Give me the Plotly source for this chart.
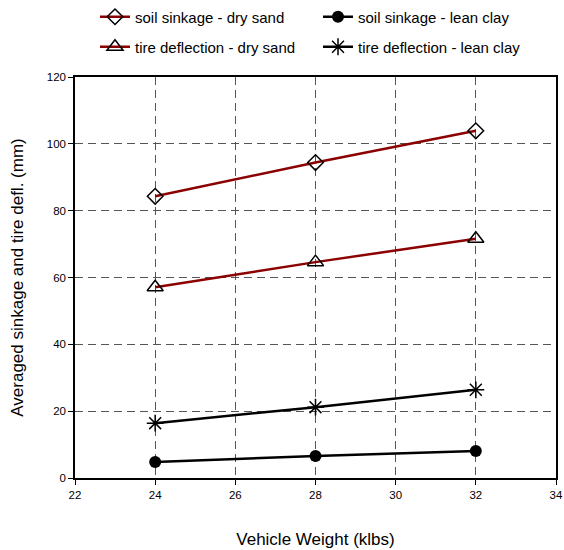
import plotly.graph_objects as go

weights = [24, 28, 32]
soil_sand = [84.3, 94.4, 103.9]
soil_clay = [4.8, 6.6, 8.1]
tire_sand = [57.1, 64.6, 71.6]
tire_clay = [16.4, 21.2, 26.4]

x_ticks = [22, 24, 26, 28, 30, 32, 34]
y_ticks = [0, 20, 40, 60, 80, 100, 120]

RED = "#8B0000"
FONT = "Liberation Sans, Arial, sans-serif"

fig = go.Figure()
fig.add_trace(go.Scatter(x=weights, y=soil_sand, name="soil sinkage - dry sand", mode="lines+markers",
                         legend="legend",
                         line=dict(color=RED, width=2.5),
                         marker=dict(symbol="diamond-open", size=12, color="black", line=dict(color="black", width=1.5))))
fig.add_trace(go.Scatter(x=weights, y=soil_clay, name="soil sinkage - lean clay", mode="lines+markers",
                         legend="legend",
                         line=dict(color="black", width=2.5),
                         marker=dict(symbol="circle", size=12, color="black")))
fig.add_trace(go.Scatter(x=weights, y=tire_sand, name="tire deflection - dry sand", mode="lines+markers",
                         legend="legend2",
                         line=dict(color=RED, width=2.5),
                         marker=dict(symbol="triangle-up-open", size=14, color="black", line=dict(color="black", width=1.5))))
fig.add_trace(go.Scatter(x=weights, y=tire_clay, name="tire deflection - lean clay", mode="lines+markers",
                         legend="legend2",
                         line=dict(color="black", width=2.5),
                         marker=dict(symbol="asterisk-open", size=14, color="black", line=dict(color="black", width=1.5))))

axis_common = dict(showline=True, linecolor="black", linewidth=1.5, mirror=True,
                   ticks="outside", ticklen=5, tickcolor="black", automargin=False,
                   showgrid=True, gridcolor="#555555", gridwidth=1, griddash="8px,5px",
                   zeroline=False, tickfont=dict(family=FONT, size=11.5, color="black"))

fig.update_xaxes(range=[22, 34], tickvals=x_ticks, **axis_common,
                 title=dict(text="Vehicle Weight (klbs)", font=dict(family=FONT, size=17, color="black"), standoff=34))
fig.update_yaxes(range=[0, 120], tickvals=y_ticks, **axis_common,
                 title=dict(text="Averaged sinkage and tire defl. (mm)", font=dict(family=FONT, size=17, color="black"), standoff=19))

leg_common = dict(orientation="h", xref="container", yref="container", xanchor="left", yanchor="middle",
                  entrywidth=178, entrywidthmode="pixels", tracegroupgap=0,
                  font=dict(family=FONT, size=15, color="black"), bgcolor="rgba(0,0,0,0)")

fig.update_layout(
    width=564, height=550,
    margin=dict(l=75, r=8, t=77, b=72),
    paper_bgcolor="white", plot_bgcolor="white",
    font=dict(family=FONT, size=13, color="black"),
    legend=dict(x=95 / 564, y=1 - 17 / 550, **leg_common),
    legend2=dict(x=95 / 564, y=1 - 47 / 550, **leg_common),
)

fig.write_html("out.html", config={"displayModeBar": False},
               post_script="document.body.style.margin='0';document.body.style.overflow='hidden';")
